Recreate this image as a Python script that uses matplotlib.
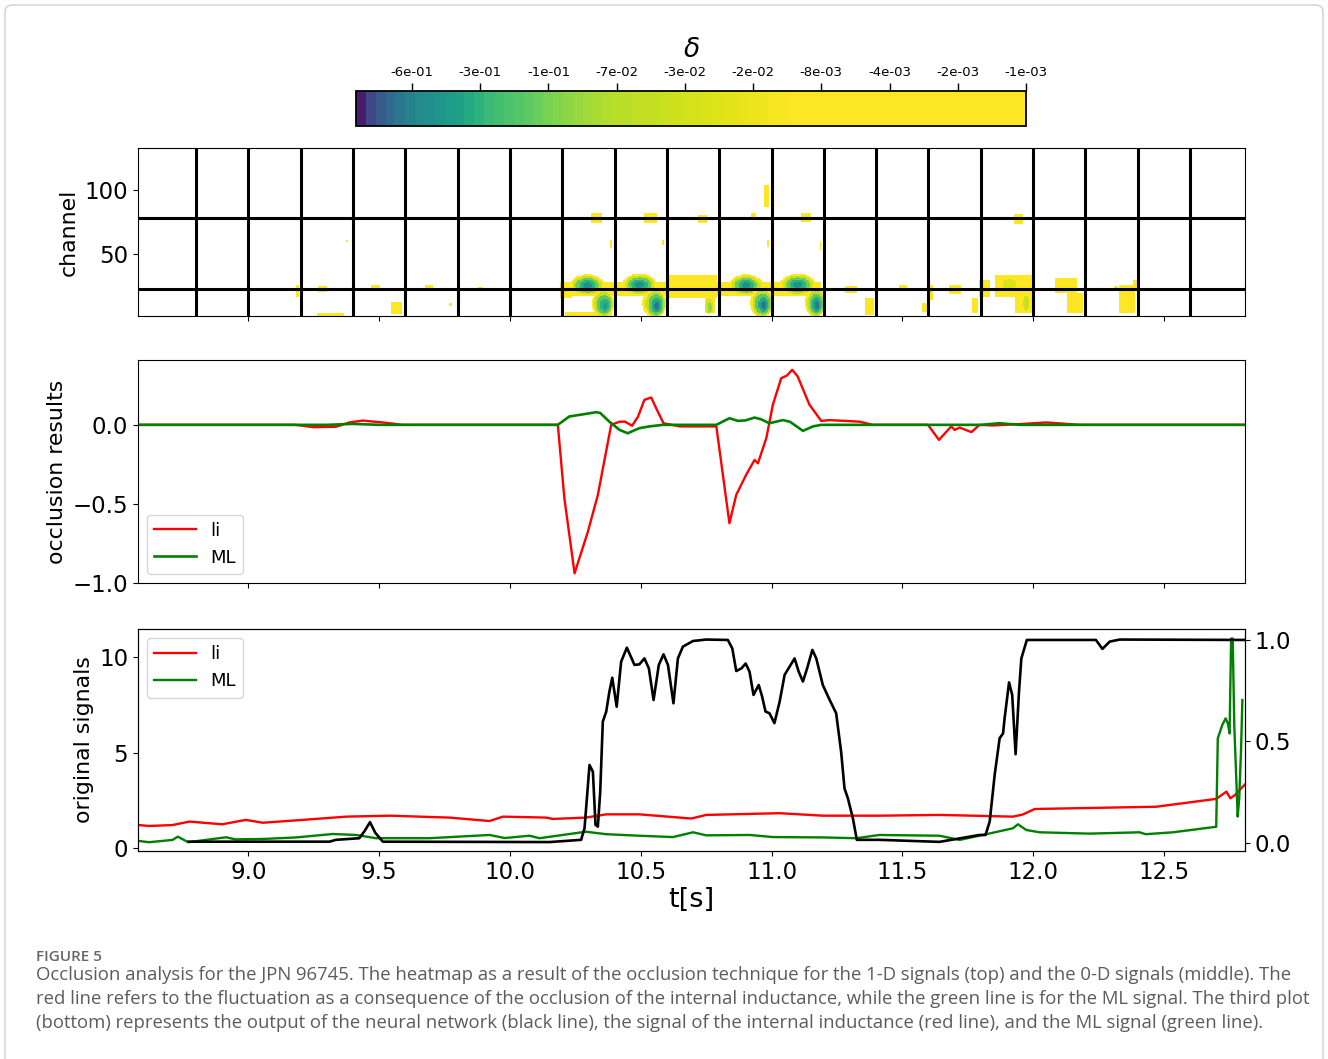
import numpy as np
import matplotlib
matplotlib.use("Agg")
import matplotlib.pyplot as plt
from matplotlib.colors import FuncNorm, ListedColormap
from matplotlib.patches import FancyBboxPatch

# ---------------- data ----------------
# colour bar ticks (delta)
cbar_tick_vals = [-6e-1, -3e-1, -1e-1, -7e-2, -3e-2, -2e-2, -8e-3, -4e-3, -2e-3, -1e-3]
cbar_tick_labels = ["-6e-01", "-3e-01", "-1e-01", "-7e-02", "-3e-02",
                    "-2e-02", "-8e-03", "-4e-03", "-2e-03", "-1e-03"]
cbar_vmin = -0.85

# occlusion windows (grid of the heatmap)
window_t = [8.8, 9.0, 9.2, 9.4, 9.6, 9.8, 10.0, 10.2, 10.4, 10.6, 10.8, 11.0,
            11.2, 11.4, 11.6, 11.8, 12.0, 12.2, 12.4, 12.6]
window_ch = [23.0, 78.5]

# heatmap regions: rectangles (t0, t1, ch0, ch1, delta)
heat_rects = [
    (9.180, 9.195, 16.4, 25.8, -2e-3), (9.264, 9.302, 20.3, 25.0, -2e-3),
    (9.470, 9.501, 21.9, 25.8, -2e-3), (9.547, 9.585, 3.1, 12.5, -3e-3),
    (9.260, 9.367, 1.6, 3.9, -2e-3), (9.673, 9.704, 22.7, 25.8, -2e-3),
    (9.765, 9.776, 9.4, 11.7, -2e-3), (9.876, 9.899, 21.9, 24.2, -2e-3),
    (9.375, 9.382, 59.4, 60.9, -2e-3),
    (10.189, 11.191, 17.0, 28.0, -3e-3), (10.189, 10.239, 15.6, 27.3, -4e-3),
    (10.602, 10.790, 15.6, 33.6, -5e-3), (10.744, 10.782, 3.9, 15.6, -1.5e-2),
    (10.208, 10.388, 1.6, 4.7, -3e-3),
    (10.308, 10.350, 74.2, 82.0, -3e-3), (10.514, 10.560, 74.2, 82.0, -3e-3),
    (10.717, 10.755, 74.2, 80.5, -3e-3), (10.920, 10.943, 76.6, 82.0, -3e-3),
    (10.969, 10.989, 86.7, 103.9, -3e-3), (11.115, 11.149, 75.0, 82.0, -3e-3),
    (10.380, 10.388, 54.7, 60.9, -2e-3), (10.583, 10.591, 57.0, 60.9, -2e-3),
    (10.981, 10.989, 55.5, 60.9, -2e-3), (11.184, 11.191, 53.1, 59.4, -2e-3),
    (11.283, 11.325, 19.5, 25.0, -3e-3), (11.359, 11.390, 2.3, 15.6, -3e-3),
    (11.486, 11.516, 21.9, 25.8, -2e-3), (11.593, 11.616, 14.1, 25.8, -3e-3),
    (11.574, 11.593, 4.7, 11.7, -2e-3), (11.677, 11.727, 18.8, 25.8, -3e-3),
    (11.765, 11.788, 3.9, 15.6, -3e-3), (11.795, 11.834, 16.4, 29.7, -3e-3),
    (11.853, 12.006, 16.4, 33.6, -4e-3), (11.929, 11.994, 3.9, 18.0, -5e-3),
    (11.925, 11.960, 73.4, 81.3, -3e-3), (12.082, 12.166, 19.5, 31.3, -3e-3),
    (12.128, 12.189, 3.9, 19.5, -4e-3), (12.193, 12.205, 20.3, 31.3, -2e-3),
    (12.308, 12.327, 21.1, 25.0, -2e-3), (12.331, 12.388, 3.9, 25.8, -3e-3),
    (12.381, 12.396, 21.9, 29.7, -2e-3),
]
# heatmap spots: ellipses (t_centre, ch_centre, t_halfwidth, ch_halfwidth, delta)
heat_spots = [
    (10.296, 25.5, 0.066, 8.5, -1.2e-2), (10.296, 25.5, 0.056, 7.2, -4e-2),
    (10.296, 25.5, 0.045, 5.8, -1.2e-1), (10.296, 25.5, 0.032, 4.2, -3e-1),
    (10.296, 25.5, 0.018, 2.5, -5e-1),
    (10.356, 11.0, 0.042, 11.0, -1.2e-2), (10.358, 11.0, 0.035, 9.5, -5e-2),
    (10.360, 10.5, 0.027, 7.5, -1.5e-1), (10.362, 10.0, 0.017, 5.0, -3e-1),
    (10.363, 9.5, 0.008, 2.5, -4.5e-1),
    (10.495, 26.0, 0.066, 8.5, -1.2e-2), (10.495, 26.0, 0.056, 7.2, -4e-2),
    (10.495, 26.0, 0.045, 5.8, -1.2e-1), (10.495, 26.0, 0.032, 4.2, -3e-1),
    (10.495, 26.0, 0.018, 2.5, -5e-1),
    (10.553, 11.5, 0.046, 11.5, -1.2e-2), (10.556, 11.0, 0.038, 10.0, -5e-2),
    (10.558, 10.5, 0.030, 8.0, -1.5e-1), (10.560, 10.0, 0.020, 5.5, -3.5e-1),
    (10.561, 9.5, 0.010, 3.0, -6.5e-1),
    (10.763, 9.0, 0.016, 6.0, -3e-2), (10.765, 8.5, 0.009, 3.5, -9e-2),
    (10.903, 25.5, 0.064, 8.5, -1.2e-2), (10.903, 25.5, 0.054, 7.2, -4e-2),
    (10.903, 25.5, 0.043, 5.8, -1.2e-1), (10.903, 25.5, 0.030, 4.2, -3e-1),
    (10.903, 25.5, 0.017, 2.5, -5e-1),
    (10.963, 12.0, 0.044, 11.5, -1.2e-2), (10.965, 11.5, 0.037, 10.0, -5e-2),
    (10.966, 11.0, 0.029, 8.0, -1.5e-1), (10.968, 10.5, 0.019, 5.5, -3.5e-1),
    (10.969, 10.0, 0.010, 3.0, -6.5e-1),
    (11.100, 26.0, 0.068, 8.5, -1.2e-2), (11.100, 26.0, 0.058, 7.2, -4e-2),
    (11.100, 26.0, 0.046, 5.8, -1.2e-1), (11.100, 26.0, 0.032, 4.2, -3e-1),
    (11.100, 26.0, 0.018, 2.5, -5e-1),
    (11.168, 12.0, 0.042, 11.5, -1.2e-2), (11.170, 11.5, 0.035, 10.0, -5e-2),
    (11.171, 11.0, 0.027, 8.0, -1.5e-1), (11.172, 10.5, 0.018, 5.5, -3.5e-1),
    (11.173, 10.0, 0.009, 3.0, -6.5e-1),
    (11.910, 26.5, 0.025, 4.0, -2.5e-2), (11.975, 11.5, 0.012, 6.0, -4e-2),
]

# occlusion results (middle)
li_occ_t = [8.55, 9.18, 9.25, 9.335, 9.386, 9.437, 9.514, 9.59, 10.183, 10.208,
            10.247, 10.298, 10.336, 10.387, 10.419, 10.44, 10.467, 10.489, 10.514,
            10.54, 10.559, 10.587, 10.65, 10.789, 10.839, 10.865, 10.903, 10.935,
            10.948, 10.98, 11.005, 11.037, 11.059, 11.079, 11.1, 11.145, 11.19,
            11.222, 11.337, 11.387, 11.598, 11.64, 11.687, 11.7, 11.719, 11.764,
            11.795, 11.846, 11.95, 12.05, 12.178, 12.85]
li_occ_v = [0, 0, -0.015, -0.012, 0.015, 0.027, 0.015, 0, 0, -0.464,
            -0.939, -0.675, -0.443, 0.0, 0.02, 0.02, -0.006, 0.05, 0.158,
            0.173, 0.105, 0.01, -0.01, -0.01, -0.622, -0.443, -0.316, -0.222,
            -0.243, -0.084, 0.127, 0.295, 0.312, 0.348, 0.306, 0.127, 0.025,
            0.03, 0.02, 0.0, 0.0, -0.095, -0.01, -0.032, -0.017, -0.046,
            0.0, -0.004, 0.005, 0.015, 0.0, 0.0]
ml_occ_t = [8.55, 9.3, 9.4, 9.5, 10.183, 10.227, 10.266, 10.33, 10.345, 10.38,
            10.419, 10.45, 10.495, 10.533, 10.584, 10.789, 10.839, 10.871, 10.9,
            10.935, 10.96, 10.992, 11.043, 11.07, 11.12, 11.158, 11.19, 11.8,
            11.87, 11.95, 12.85]
ml_occ_v = [0, 0, 0.006, 0, 0, 0.053, 0.063, 0.08, 0.075, 0.02,
            -0.032, -0.053, -0.021, -0.01, 0.0, 0.0, 0.042, 0.025, 0.028,
            0.046, 0.035, 0.01, 0.03, 0.02, -0.038, -0.01, 0.0, 0.0,
            0.01, 0.0, 0.0]

# original signals (bottom)
li_t = [8.55, 8.62, 8.71, 8.774, 8.9, 8.99, 9.055, 9.208, 9.374, 9.54,
        9.769, 9.922, 9.973, 10.138, 10.164, 10.29, 10.368, 10.495, 10.693, 10.75,
        11.031, 11.196, 11.413, 11.642, 11.923, 11.96, 12.006, 12.28, 12.471, 12.7,
        12.739, 12.754, 12.77, 12.81]
li_v = [1.24, 1.15, 1.2, 1.38, 1.24, 1.47, 1.32, 1.47, 1.64, 1.69,
        1.59, 1.41, 1.64, 1.59, 1.52, 1.59, 1.76, 1.76, 1.54, 1.73,
        1.82, 1.69, 1.69, 1.73, 1.64, 1.75, 2.04, 2.11, 2.16, 2.57,
        2.95, 2.6, 2.75, 3.33]
ml_t = [8.55, 8.62, 8.71, 8.73, 8.77, 8.915, 8.95, 9.055, 9.182, 9.322,
        9.412, 9.488, 9.692, 9.922, 9.98, 10.075, 10.113, 10.29, 10.368, 10.495,
        10.623, 10.7, 10.75, 10.916, 11.005, 11.2, 11.324, 11.413, 11.642, 11.719,
        11.821, 11.923, 11.942, 11.974, 12.025, 12.216, 12.407, 12.43, 12.535, 12.7,
        12.706, 12.723, 12.736, 12.745, 12.751, 12.757, 12.763, 12.769, 12.782, 12.788,
        12.795, 12.8]
ml_v = [0.42, 0.30, 0.42, 0.59, 0.30, 0.56, 0.45, 0.47, 0.55, 0.73,
        0.68, 0.51, 0.51, 0.68, 0.52, 0.64, 0.51, 0.85, 0.72, 0.64,
        0.57, 0.82, 0.66, 0.68, 0.57, 0.55, 0.51, 0.68, 0.64, 0.42,
        0.72, 1.03, 1.24, 0.94, 0.82, 0.75, 0.82, 0.72, 0.82, 1.11,
        5.74, 6.44, 6.79, 6.5, 6.0, 10.97, 10.97, 6.44, 1.64, 2.6,
        5.21, 7.75]
nn_t = [8.772, 9.31, 9.335, 9.424, 9.445, 9.465, 9.485, 9.514, 10.151, 10.272,
        10.285, 10.296, 10.304, 10.317, 10.327, 10.336, 10.345, 10.355, 10.368, 10.38,
        10.391, 10.408, 10.425, 10.447, 10.476, 10.495, 10.514, 10.531, 10.549, 10.569,
        10.587, 10.604, 10.625, 10.642, 10.661, 10.7, 10.75, 10.833, 10.85, 10.865,
        10.885, 10.901, 10.916, 10.931, 10.951, 10.964, 10.977, 10.992, 11.011, 11.031,
        11.05, 11.088, 11.104, 11.12, 11.136, 11.156, 11.171, 11.196, 11.219, 11.247,
        11.266, 11.279, 11.292, 11.311, 11.326, 11.413, 11.642, 11.795, 11.818, 11.834,
        11.853, 11.872, 11.885, 11.891, 11.908, 11.92, 11.933, 11.946, 11.955, 11.976,
        12.076, 12.24, 12.265, 12.293, 12.331, 12.81]
nn_v = [0.006, 0.006, 0.015, 0.023, 0.06, 0.102, 0.05, 0.006, 0.004, 0.015,
        0.072, 0.25, 0.384, 0.351, 0.089, 0.08, 0.252, 0.598, 0.647, 0.745,
        0.814, 0.671, 0.893, 0.962, 0.877, 0.88, 0.909, 0.86, 0.704, 0.877,
        0.929, 0.877, 0.688, 0.909, 0.967, 0.995, 1.002, 1.0, 0.958, 0.847,
        0.86, 0.884, 0.843, 0.729, 0.778, 0.721, 0.647, 0.639, 0.59, 0.696,
        0.828, 0.909, 0.843, 0.795, 0.86, 0.951, 0.909, 0.778, 0.713, 0.639,
        0.449, 0.268, 0.219, 0.121, 0.015, 0.015, 0.005, 0.039, 0.039, 0.105,
        0.335, 0.516, 0.539, 0.614, 0.791, 0.729, 0.437, 0.745, 0.909, 1.0,
        1.0, 1.0, 0.956, 0.992, 1.002, 1.0]

x_ticks = [9.0, 9.5, 10.0, 10.5, 11.0, 11.5, 12.0, 12.5]

caption_title = "FIGURE 5"
caption_lines = [
    "Occlusion analysis for the JPN 96745. The heatmap as a result of the occlusion technique for the 1-D signals (top) and the 0-D signals (middle). The",
    "red line refers to the fluctuation as a consequence of the occlusion of the internal inductance, while the green line is for the ML signal. The third plot",
    "(bottom) represents the output of the neural network (black line), the signal of the internal inductance (red line), and the ML signal (green line).",
]

# ---------------- figure ----------------
W, H = 1328, 1059
fig = plt.figure(figsize=(W / 100, H / 100), dpi=100)
fig.patch.set_facecolor("white")


def box(x0, y0, x1, y1):
    return [x0 / W, 1 - y1 / H, (x1 - x0) / W, (y1 - y0) / H]


TICK = 16.5
LAB = 15.8

ax1 = fig.add_axes(box(138, 148, 1245, 316))
ax2 = fig.add_axes(box(138, 360, 1245, 583), sharex=ax1)
ax3 = fig.add_axes(box(138, 629, 1245, 851), sharex=ax1)
cax = fig.add_axes(box(356, 91, 1026, 126))

# colour scale: ticks equally spaced along the colour bar
cb_vals = [cbar_vmin] + cbar_tick_vals
first = 0.0836
step = (1.0 - first) / (len(cbar_tick_vals) - 1)
cb_pos = [0.0] + [first + i * step for i in range(len(cbar_tick_vals))]


def fwd(x):
    return np.interp(x, cb_vals, cb_pos)


def inv(y):
    return np.interp(y, cb_pos, cb_vals)


norm = FuncNorm((fwd, inv), vmin=cbar_vmin, vmax=cbar_tick_vals[-1])

# discrete colour bands: position along bar -> viridis fraction
n_bands = 68
bar_p = [0.0, 0.02, 0.041, 0.062, 0.082, 0.123, 0.158, 0.2, 0.264, 0.305,
         0.346, 0.387, 0.49, 0.592, 0.66, 1.0]
vir_f = [0.0, 0.2, 0.3, 0.38, 0.45, 0.52, 0.58, 0.68, 0.76, 0.82,
         0.86, 0.89, 0.93, 0.97, 1.0, 1.0]
base = matplotlib.colormaps["viridis"]
band_centres = (np.arange(n_bands) + 0.5) / n_bands
cmap = ListedColormap([base(np.interp(p, bar_p, vir_f)) for p in band_centres])

# heatmap grid
t_edges = np.arange(8.57, 12.83, 0.004)
c_edges = np.arange(1.0, 134.0, 0.5)
tc = 0.5 * (t_edges[1:] + t_edges[:-1])
cc = 0.5 * (c_edges[1:] + c_edges[:-1])
T, C = np.meshgrid(tc, cc)
Z = np.full(T.shape, np.nan)
for (t0, t1, c0, c1, d) in heat_rects:
    Z[(T >= t0) & (T <= t1) & (C >= c0) & (C <= c1)] = d
for (tm, cm, ht, hc, d) in heat_spots:
    Z[((T - tm) / ht) ** 2 + ((C - cm) / hc) ** 2 <= 1.0] = d

mesh = ax1.pcolormesh(t_edges, c_edges, Z, cmap=cmap, norm=norm, shading="flat")
for t in window_t:
    ax1.axvline(t, color="black", lw=2.2, zorder=3)
for c in window_ch:
    ax1.axhline(c, color="black", lw=2.2, zorder=3)
ax1.set_ylim(1.5, 133)
ax1.set_yticks([50, 100])
ax1.set_ylabel("channel", fontsize=LAB)

cb = fig.colorbar(mesh, cax=cax, orientation="horizontal", ticklocation="top")
cb.set_ticks(cbar_tick_vals)
cb.set_ticklabels(cbar_tick_labels)
cb.minorticks_off()
cax.tick_params(labelsize=9.5, length=6, width=1, pad=3)
cb.outline.set_linewidth(1.3)
cb.set_label(r"$\delta$", fontsize=19, labelpad=6)

# middle
ax2.plot(li_occ_t, li_occ_v, color="red", lw=1.7, label="li")
ax2.plot(ml_occ_t, ml_occ_v, color="green", lw=1.9, label="ML")
ax2.set_ylim(-1.0, 0.41)
ax2.set_yticks([-1.0, -0.5, 0.0])
ax2.set_ylabel("occlusion results", fontsize=LAB)
ax2.legend(loc="lower left", fontsize=13, handlelength=2.3)

# bottom
ax3.plot(li_t, li_v, color="red", lw=1.7, label="li")
ax3.plot(ml_t, ml_v, color="green", lw=1.7, label="ML")
ax3.set_ylim(-0.16, 11.47)
ax3.set_yticks([0, 5, 10])
ax3.set_ylabel("original signals", fontsize=LAB)
ax3.legend(loc="upper left", fontsize=13, handlelength=2.3)
ax3r = ax3.twinx()
ax3r.plot(nn_t, nn_v, color="black", lw=1.9)
ax3r.set_ylim(-0.04, 1.054)
ax3r.set_yticks([0.0, 0.5, 1.0])
ax3r.tick_params(labelsize=TICK)

ax3.set_xlim(8.578, 12.81)
ax3.set_xticks(x_ticks)
ax3.set_xlabel("t[s]", fontsize=19.5, labelpad=2)
for a in (ax1, ax2, ax3):
    a.tick_params(labelsize=TICK)
for a in (ax1, ax2):
    a.tick_params(labelbottom=False)

# border and caption
border = FancyBboxPatch((5 / W, -0.02), 1318 / W, 1.0 - 5 / H + 0.02,
                        boxstyle="round,pad=0,rounding_size=0.006",
                        transform=fig.transFigure, fill=False,
                        ec="#d0d0d0", lw=1.0)
fig.patches.append(border)

fig.text(36 / W, 1 - 957 / H, caption_title, fontsize=11, color="#666666",
         family="Open Sans", fontweight="semibold", va="center", ha="left")
txts = []
for i, line in enumerate(caption_lines):
    txts.append(fig.text(36 / W, 1 - (975 + 24 * i) / H, line, fontsize=12,
                         color="#5c5c5c", family="Open Sans", va="center", ha="left"))
fig.canvas.draw()
r = fig.canvas.get_renderer()
w0 = txts[0].get_window_extent(r).width
fs = 12 * 1246 / w0
for t in txts:
    t.set_fontsize(fs)

fig.savefig("out.png", dpi=100, facecolor="white")
